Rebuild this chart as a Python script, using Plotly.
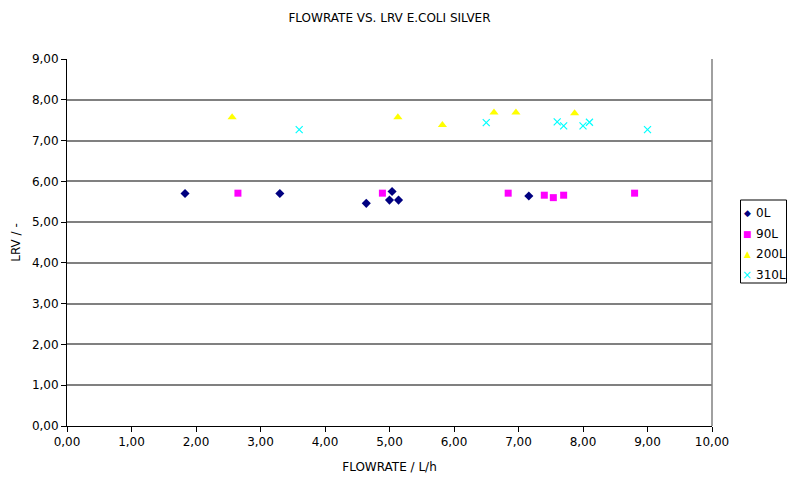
import plotly.graph_objects as go

# Flow rate (L/h) and log reduction value for each filtered volume
flow_0L = [1.83, 3.30, 4.64, 5.04, 5.00, 5.14, 7.16]
lrv_0L = [5.70, 5.70, 5.46, 5.75, 5.54, 5.54, 5.64]

flow_90L = [2.65, 4.89, 6.84, 7.40, 7.54, 7.70, 8.80]
lrv_90L = [5.71, 5.71, 5.71, 5.66, 5.60, 5.66, 5.71]

flow_200L = [2.56, 5.13, 5.82, 6.62, 6.96, 7.87]
lrv_200L = [7.57, 7.57, 7.38, 7.69, 7.69, 7.67]

flow_310L = [3.60, 6.50, 7.60, 7.70, 8.00, 8.10, 9.00]
lrv_310L = [7.27, 7.44, 7.46, 7.36, 7.36, 7.45, 7.27]

series_names = ["0L", "90L", "200L", "310L"]
series_colors = ["#000080", "#FF00FF", "#FFFF00", "#00FFFF"]
legend_glyphs = ["\u25C6", "\u25A0", "\u25B2", "\u00D7"]

x_ticks = [0, 1, 2, 3, 4, 5, 6, 7, 8, 9, 10]
y_ticks = [0, 1, 2, 3, 4, 5, 6, 7, 8, 9]

FONT = "DejaVu Sans"

fig = go.Figure()
fig.add_trace(go.Scatter(x=flow_0L, y=lrv_0L, mode="markers", name=series_names[0],
                         marker=dict(symbol="diamond", size=7, color=series_colors[0])))
fig.add_trace(go.Scatter(x=flow_90L, y=lrv_90L, mode="markers", name=series_names[1],
                         marker=dict(symbol="square", size=7, color=series_colors[1])))
fig.add_trace(go.Scatter(x=flow_200L, y=lrv_200L, mode="markers", name=series_names[2],
                         marker=dict(symbol="triangle-up", size=8, color=series_colors[2])))
fig.add_trace(go.Scatter(x=flow_310L, y=lrv_310L, mode="markers", name=series_names[3],
                         marker=dict(symbol="x-thin", size=7,
                                     line=dict(color=series_colors[3], width=1.2))))

fig.update_layout(
    width=787, height=477,
    margin=dict(l=67, r=75, t=59, b=51, autoexpand=False),
    paper_bgcolor="white", plot_bgcolor="white",
    separators=",.",
    font=dict(family=FONT, size=12, color="black"),
    title=dict(text="FLOWRATE VS. LRV E.COLI SILVER", x=0.5, xref="paper",
               xanchor="center", y=0.963, yanchor="middle",
               font=dict(family=FONT, size=12, color="black")),
    xaxis=dict(range=[0, 10], tickvals=x_ticks, tickformat=".2f",
               showgrid=False, zeroline=False,
               showline=True, linecolor="black", linewidth=1,
               ticks="outside", ticklen=5, tickcolor="black",
               mirror=False,
               title=dict(text="FLOWRATE / L/h", standoff=14,
                          font=dict(family=FONT, size=12))),
    yaxis=dict(range=[0, 9], tickvals=y_ticks, tickformat=".2f",
               showgrid=True, gridcolor="#808080", gridwidth=1.5,
               zeroline=False,
               showline=True, linecolor="black", linewidth=1,
               ticks="outside", ticklen=5, tickcolor="black",
               title=dict(text="LRV / -", standoff=8,
                          font=dict(family=FONT, size=12))),
    showlegend=False,
)

# Right-hand plot border
fig.add_shape(type="line", xref="paper", yref="paper", x0=1, x1=1, y0=0, y1=1,
              line=dict(color="#808080", width=1.5))

# Compact legend box in the right margin
plot_w, plot_h = 787 - 67 - 75, 477 - 59 - 51


def px_x(px):
    return (px - 67) / plot_w


def px_y(py):
    return (477 - 51 - py) / plot_h


fig.add_shape(type="rect", xref="paper", yref="paper",
              x0=px_x(740.5), x1=px_x(786.5), y0=px_y(283), y1=px_y(200),
              line=dict(color="black", width=1), fillcolor="white", layer="above")

row_y = [213, 234, 254, 275]
for name, color, glyph, ry in zip(series_names, series_colors, legend_glyphs, row_y):
    size = 12 if glyph == "\u00D7" else 9
    fig.add_annotation(xref="paper", yref="paper", x=px_x(747), y=px_y(ry),
                       text=glyph, showarrow=False, xanchor="center", yanchor="middle",
                       font=dict(family=FONT, size=size, color=color))
    fig.add_annotation(xref="paper", yref="paper", x=px_x(754), y=px_y(ry),
                       text=name, showarrow=False, xanchor="left", yanchor="middle",
                       font=dict(family=FONT, size=12, color="black"))

fig.write_html("out.html")
